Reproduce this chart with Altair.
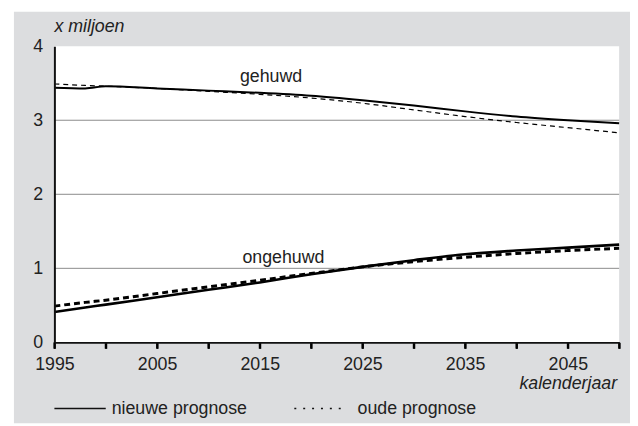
import altair as alt
import pandas as pd

# ---- data ----
years = [1995, 1998, 2000, 2005, 2010, 2015, 2020, 2025, 2030, 2035, 2040, 2045, 2050]
gehuwd_nieuw = [3.44, 3.43, 3.46, 3.43, 3.40, 3.37, 3.33, 3.27, 3.20, 3.12, 3.05, 3.00, 2.96]
gehuwd_oud = [3.49, 3.47, 3.46, 3.43, 3.39, 3.35, 3.30, 3.23, 3.14, 3.05, 2.97, 2.90, 2.83]
ongehuwd_nieuw = [0.41, 0.47, 0.51, 0.61, 0.71, 0.81, 0.92, 1.02, 1.11, 1.19, 1.24, 1.28, 1.32]
ongehuwd_oud = [0.49, 0.54, 0.57, 0.66, 0.75, 0.84, 0.93, 1.02, 1.09, 1.15, 1.20, 1.24, 1.27]

x_ticks = [1995, 2000, 2005, 2010, 2015, 2020, 2025, 2030, 2035, 2040, 2045, 2050]
y_ticks = [0, 1, 2, 3, 4]
grid_y = [1, 2, 3]

label_text = ["gehuwd", "ongehuwd"]
label_x = [2016.1, 2017.3]
label_y = [3.51, 1.07]

FONT = "Liberation Sans, Arial, sans-serif"
TXT = "#222222"
GREY = "#dcdddf"
W, H = 572, 300

rows = []
for name, vals in [("gehuwd_nieuw", gehuwd_nieuw), ("gehuwd_oud", gehuwd_oud),
                   ("ongehuwd_nieuw", ongehuwd_nieuw), ("ongehuwd_oud", ongehuwd_oud)]:
    for y, v in zip(years, vals):
        rows.append({"jaar": y, "waarde": v, "reeks": name})
df = pd.DataFrame(rows)

xscale = alt.Scale(domain=[1995, 2050], nice=False, zero=False)
yscale = alt.Scale(domain=[0, 4], nice=False)

x_axis = alt.Axis(values=x_ticks, format="d", title=None, grid=False,
                  labelExpr="((datum.value - 1995) % 10 == 0 && datum.value < 2050) ? datum.value : ''",
                  ticks=True, tickSize=6, tickColor="#000000", tickWidth=2, tickOpacity=1,
                  domain=True, domainColor="#111", domainWidth=2,
                  labelFontSize=18, labelPadding=7, labelFlush=False, labelFont=FONT,
                  labelColor=TXT, zindex=2)
y_axis = alt.Axis(values=y_ticks, title=None, grid=False, ticks=False,
                  domain=True, domainColor="#111", domainWidth=2, labelFontSize=18, labelPadding=12,
                  labelFont=FONT, labelColor=TXT, zindex=2)

one = pd.DataFrame({"a": [0]})

# grey panel & white plot area
panel = alt.Chart(one).mark_rect(color=GREY).encode(
    x=alt.value(-41), x2=alt.value(W + 11), y=alt.value(-35), y2=alt.value(H + 82))
plotbg = alt.Chart(one).mark_rect(color="white").encode(
    x=alt.value(0), x2=alt.value(W), y=alt.value(0), y2=alt.value(H))

grid = alt.Chart(pd.DataFrame({"g": grid_y})).mark_rule(color="#8a8a8a", strokeWidth=1).encode(
    y=alt.Y("g:Q", scale=yscale, axis=y_axis))

# x-axis tick marks drawn as short vertical rules between two data values
xticks = alt.Chart(pd.DataFrame({"tk": x_ticks, "lo": [-0.085] * len(x_ticks),
                                 "hi": [0.0] * len(x_ticks)})).mark_rule(
    color="#000000", strokeWidth=2).encode(
    x=alt.X("tk:Q", scale=xscale, axis=x_axis),
    y=alt.Y("lo:Q", scale=yscale, axis=y_axis), y2="hi:Q")


def line(name, width, dash=None):
    kw = dict(color="#000", strokeWidth=width, interpolate="monotone")
    if dash:
        kw["strokeDash"] = dash
    return alt.Chart(df).transform_filter(alt.datum.reeks == name).mark_line(**kw).encode(
        x=alt.X("jaar:Q", scale=xscale, axis=x_axis),
        y=alt.Y("waarde:Q", scale=yscale, axis=y_axis))


l1 = line("gehuwd_oud", 1.2, [5, 4])
l2 = line("gehuwd_nieuw", 2.0)
l3 = line("ongehuwd_oud", 3.0, [6, 4])
l4 = line("ongehuwd_nieuw", 2.6)

labels = alt.Chart(pd.DataFrame({"t": label_text, "x": label_x, "y": label_y})).mark_text(
    font=FONT, fontSize=18, color=TXT, align="center", baseline="alphabetic").encode(
    x=alt.X("x:Q", scale=xscale, axis=x_axis), y=alt.Y("y:Q", scale=yscale, axis=y_axis), text="t:N")


def txt(s, x, y, align="left", italic=False):
    kw = dict(font=FONT, fontSize=18, color=TXT, align=align, baseline="alphabetic")
    if italic:
        kw["fontStyle"] = "italic"
    return alt.Chart(pd.DataFrame({"t": [s]})).mark_text(**kw).encode(
        x=alt.value(x), y=alt.value(y), text="t:N")


ytitle = txt("x miljoen", 0, -14, italic=True)
xtitle = txt("kalenderjaar", 570, 347, align="right", italic=True)

leg_solid = alt.Chart(one).mark_rule(color="#111", strokeWidth=1.5).encode(
    x=alt.value(0), x2=alt.value(52), y=alt.value(367))
leg_dot = alt.Chart(one).mark_rule(color="#111", strokeWidth=1.5, strokeDash=[2, 7]).encode(
    x=alt.value(243), x2=alt.value(290), y=alt.value(367))
leg_t1 = txt("nieuwe prognose", 58, 373)
leg_t2 = txt("oude prognose", 307, 373)

chart = alt.layer(
    panel, plotbg, grid, l1, l2, l3, l4, labels, ytitle, xtitle,
    leg_solid, leg_dot, leg_t1, leg_t2, xticks
).properties(
    width=W, height=H,
    autosize=alt.AutoSizeParams(type="none"),
    padding={"left": 47, "top": 36, "right": 11, "bottom": 82},
    background="white",
).configure_view(stroke="#111", strokeWidth=1.5)

chart.save("out.html", embed_options={"renderer": "svg", "actions": False})
